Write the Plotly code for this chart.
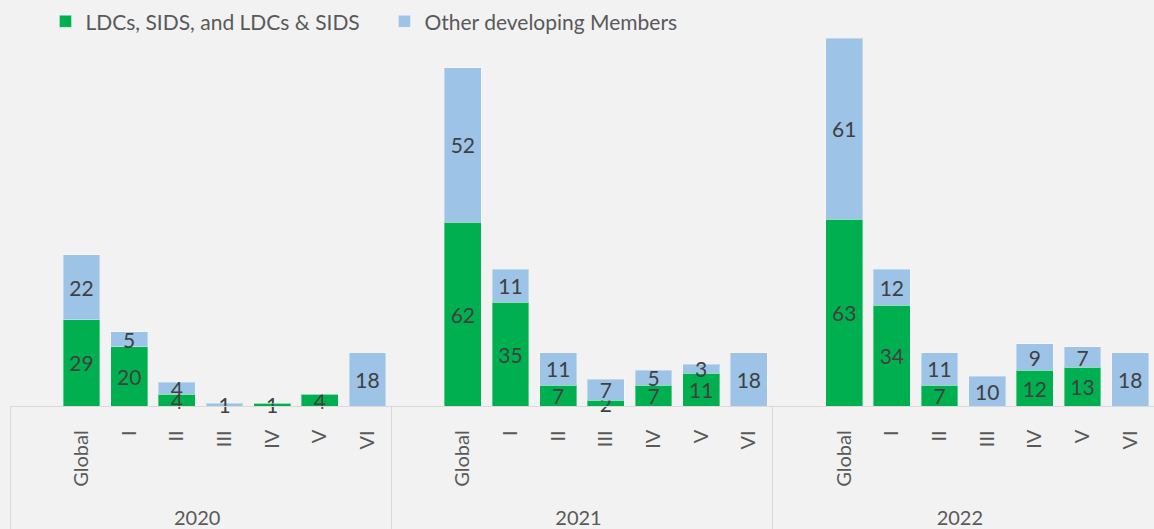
import plotly.graph_objects as go

years = ["2020", "2021", "2022"]
categories = [" ", "Global", "I", "II", "III", "IV", "V", "VI"]

ldc_2020 = [None, 29, 20, 4, 0, 1, 4, 0]
ldc_2021 = [None, 62, 35, 7, 2, 7, 11, 0]
ldc_2022 = [None, 63, 34, 7, 0, 12, 13, 0]
other_2020 = [None, 22, 5, 4, 1, 0, 0, 18]
other_2021 = [None, 52, 11, 11, 7, 5, 3, 18]
other_2022 = [None, 61, 12, 11, 10, 9, 7, 18]

PAD = "\u00a0" * 3  # gap between axis line and rotated labels
x_year = [y for y in years for _ in categories]
x_cat = [c + PAD for _ in years for c in categories]
ldc = ldc_2020 + ldc_2021 + ldc_2022
other = other_2020 + other_2021 + other_2022


def labels(vals):
    return [str(v) if v else "" for v in vals]


GREEN = "#00B050"
BLUE = "#9DC3E6"
TXT = "#404040"
AX = "#595959"
FONT = "Lato"

fig = go.Figure()
for vals, name, color in [(ldc, "LDCs, SIDS, and LDCs & SIDS", GREEN),
                          (other, "Other developing Members", BLUE)]:
    fig.add_trace(go.Bar(
        x=[x_year, x_cat], y=vals, name=name,
        marker=dict(color=color, line=dict(color="rgba(255,255,255,0.35)", width=1)),
        text=labels(vals), textposition="inside", insidetextanchor="middle",
        textangle=0, constraintext="none", cliponaxis=False,
        textfont=dict(family=FONT, size=21, color=TXT),
        hoverinfo="skip",
    ))

fig.update_layout(
    barmode="stack",
    bargap=0.23,
    width=1154, height=529,
    paper_bgcolor="#F2F2F2", plot_bgcolor="#F2F2F2",
    margin=dict(l=10, r=0, t=38, b=123),
    font=dict(family=FONT, size=21, color=AX),
    legend=dict(orientation="h", x=0.031, y=1.1, xanchor="left", yanchor="top",
                font=dict(family=FONT, size=21, color=AX), bgcolor="rgba(0,0,0,0)",
                itemwidth=30, entrywidth=294, traceorder="normal"),
    showlegend=True,
    uniformtext=dict(mode=False),
)
fig.update_xaxes(
    type="multicategory", tickangle=-90, showline=True, linecolor="#D9D9D9",
    linewidth=1, showdividers=True, dividercolor="#D9D9D9", dividerwidth=1,
    tickfont=dict(family=FONT, size=20, color=AX),
    ticks="", showgrid=False, automargin=False,
)
fig.update_yaxes(range=[0, 124], visible=False, showgrid=False, automargin=False)

fig.write_html("out.html", config={"displayModeBar": False},
               post_script="document.body.style.margin='0';")
